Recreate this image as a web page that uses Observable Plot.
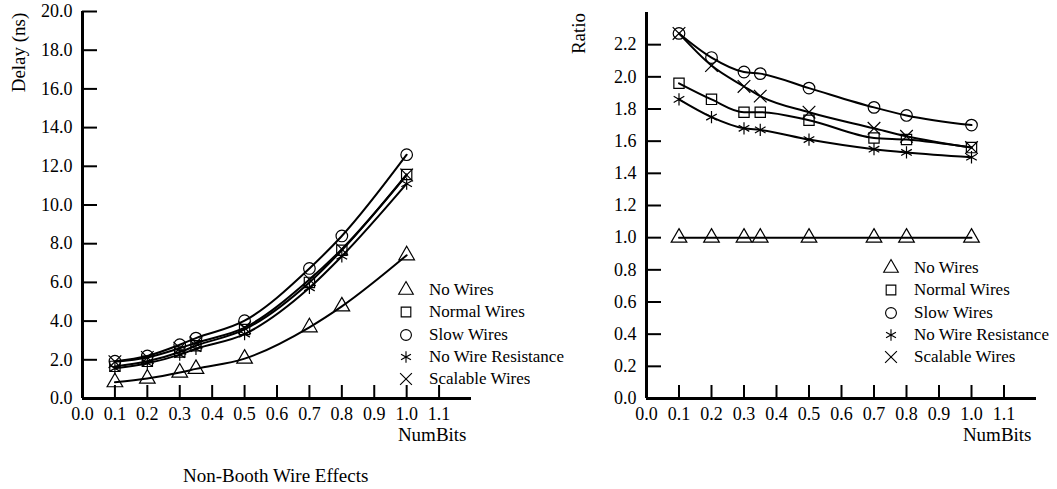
<!DOCTYPE html>
<html><head><meta charset="utf-8">
<script src="https://cdn.jsdelivr.net/npm/d3@7"></script>
<script src="https://cdn.jsdelivr.net/npm/@observablehq/plot@0.6"></script>
<style>
body{margin:0;background:#fff;}
#wrap{position:relative;width:1057px;height:489px;overflow:hidden;background:#fff;}
.abs{position:absolute;}
.caption{font-family:"Liberation Serif",serif;font-size:19px;line-height:19px;color:#000;white-space:nowrap;}
.leg, .leg *{font-family:"Liberation Serif",serif !important;font-size:17px !important;color:#000 !important;}
.leg [class$="-swatch"]{height:22.25px !important;padding:0 !important;margin:0 !important;}
.leg svg{margin-right:16px !important;}
.leg > div{margin:0 !important;}
</style></head><body><div id="wrap"></div>
<script>
// ---- data ----
const numBits = [0.1, 0.2, 0.3, 0.35, 0.5, 0.7, 0.8, 1.0];
const seriesNames = ["No Wires", "Normal Wires", "Slow Wires", "No Wire Resistance", "Scalable Wires"];
const seriesSymbols = ["triangle", "square", "circle", "asterisk", "times"];

const delayNoWires   = [0.84, 1.03, 1.34, 1.53, 2.06, 3.68, 4.76, 7.40];
const delayNormal    = [1.66, 1.92, 2.40, 2.73, 3.57, 6.00, 7.66, 11.58];
const delaySlow      = [1.93, 2.20, 2.78, 3.12, 4.02, 6.72, 8.40, 12.60];
const delayNoRes     = [1.56, 1.82, 2.27, 2.57, 3.33, 5.72, 7.35, 11.10];
const delayScalable  = [1.90, 2.12, 2.60, 2.88, 3.66, 6.15, 7.72, 11.55];

const ratioNoWires   = [1.00, 1.00, 1.00, 1.00, 1.00, 1.00, 1.00, 1.00];
const ratioNormal    = [1.96, 1.86, 1.78, 1.78, 1.73, 1.62, 1.61, 1.56];
const ratioSlow      = [2.27, 2.12, 2.03, 2.02, 1.93, 1.81, 1.76, 1.70];
const ratioNoRes     = [1.86, 1.75, 1.68, 1.67, 1.61, 1.55, 1.53, 1.50];
const ratioScalable  = [2.27, 2.07, 1.94, 1.88, 1.78, 1.68, 1.63, 1.56];

const xTicks = [0.0, 0.1, 0.2, 0.3, 0.4, 0.5, 0.6, 0.7, 0.8, 0.9, 1.0, 1.1];
const delayTicks = [0, 2, 4, 6, 8, 10, 12, 14, 16, 18, 20];
const ratioTicks = [0, 0.2, 0.4, 0.6, 0.8, 1.0, 1.2, 1.4, 1.6, 1.8, 2.0, 2.2];
const xDomain = [0, 1.2];
const delayDomain = [0, 20];
const ratioDomain = [0, 2.4];

const leftYLabel = "Delay (ns)";
const rightYLabel = "Ratio";
const xLabel = "NumBits";
const captionText = "Non-Booth Wire Effects";

// ---- build ----
function toRows(seriesValues) {
  return seriesNames.flatMap((s, i) => numBits.map((x, j) => ({series: s, x, y: seriesValues[i][j]})));
}
const delayRows = toRows([delayNoWires, delayNormal, delaySlow, delayNoRes, delayScalable]);
const ratioRows = toRows([ratioNoWires, ratioNormal, ratioSlow, ratioNoRes, ratioScalable]);

const fmt = d3.format(".1f");
const FONT = '"Liberation Serif", serif';

function chart(rows, o) {
  return Plot.plot({
    width: o.width, height: 450,
    marginLeft: o.ml, marginRight: o.mr, marginTop: o.mt, marginBottom: 52,
    style: {fontFamily: FONT, fontSize: "18px", color: "#000", background: "transparent", overflow: "visible"},
    x: {domain: xDomain, label: null},
    y: {domain: o.yDomain, label: null},
    symbol: {domain: seriesNames, range: seriesSymbols},
    marks: [
      Plot.axisX({ticks: xTicks, tickSize: 0, tickPadding: 9, tickFormat: fmt, label: null}),
      Plot.axisX({ticks: xTicks, tickSize: -13, tickFormat: () => "", strokeWidth: 2, label: null}),
      Plot.axisY({ticks: o.yTicks, tickSize: 0, tickPadding: 10, tickFormat: fmt, label: null}),
      Plot.axisY({ticks: o.yTicks, tickSize: -15, tickFormat: () => "", strokeWidth: 2, label: null}),
      Plot.ruleY([0], {strokeWidth: 3, stroke: "#000"}),
      Plot.ruleX([0], {strokeWidth: 3, stroke: "#000"}),
      Plot.line(rows, {x: "x", y: "y", z: "series", curve: "monotone-x", stroke: "#000", strokeWidth: 2}),
      Plot.dot(rows, {x: "x", y: "y", symbol: "series", r: 5.8, stroke: "#000", fill: "none", strokeWidth: 1.2}),
      Plot.text([o.yLabel], {text: d => d, frameAnchor: "top-left", rotate: -90, dx: o.ldx, dy: o.ldy, fontSize: 19, textAnchor: "middle", fill: "#000"}),
      Plot.text([xLabel], {text: d => d, frameAnchor: "bottom-right", dx: -5, dy: 42, fontSize: 19, textAnchor: "end", fill: "#000"})
    ]
  });
}

const wrap = document.getElementById("wrap");
function place(el, left, top) {
  const d = document.createElement("div");
  d.className = "abs";
  d.style.left = left + "px";
  d.style.top = top + "px";
  d.appendChild(el);
  wrap.appendChild(d);
  return d;
}

const left = chart(delayRows, {width: 520, ml: 82, mr: 49, mt: 11, yDomain: delayDomain, yTicks: delayTicks, yLabel: leftYLabel, ldx: -71, ldy: 41});
place(left, 0, 0);
const right = chart(ratioRows, {width: 527, ml: 116, mr: 21, mt: 12, yDomain: ratioDomain, yTicks: ratioTicks, yLabel: rightYLabel, ldx: -75, ldy: 21});
place(right, 530, 0);

function legend() {
  return Plot.legend({
    symbol: {domain: seriesNames, range: seriesSymbols},
    columns: 1, swatchSize: 14, r: 6.2, stroke: "#000", fill: "none", strokeWidth: 1.3
  });
}
const l1 = place(legend(), 399, 279); l1.classList.add("leg");
const l2 = place(legend(), 884, 257); l2.classList.add("leg");

const cap = document.createElement("div");
cap.className = "abs caption";
cap.textContent = captionText;
cap.style.left = "183px";
cap.style.top = "466px";
wrap.appendChild(cap);
</script>
</body></html>
